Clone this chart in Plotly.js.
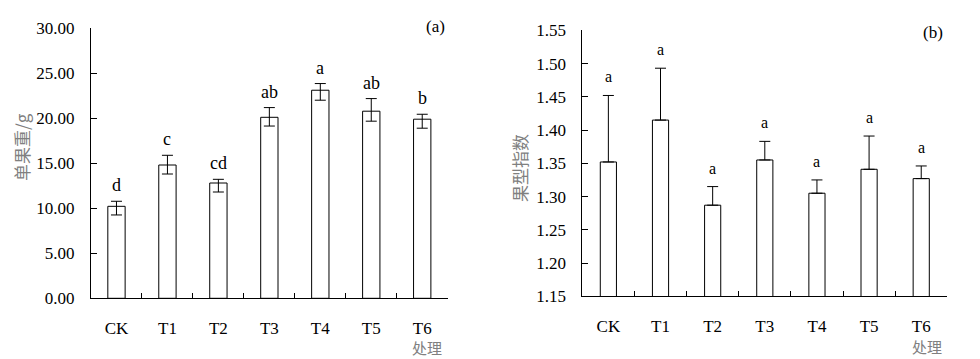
<!DOCTYPE html>
<html>
<head>
<meta charset="utf-8">
<script src="https://cdn.plot.ly/plotly-3.0.1.min.js"></script>
<style>html,body{margin:0;padding:0;background:#fff;}#chart{width:980px;height:359px;}</style>
</head>
<body>
<div id="chart"></div>
<script>
// ---- data ----
const categories = ["CK", "T1", "T2", "T3", "T4", "T5", "T6"];

// (a) 单果重/g
const weightMean = [10.22, 14.81, 12.81, 20.11, 23.12, 20.79, 19.90];
const weightErrUp = [0.56, 1.08, 0.41, 1.08, 0.74, 1.40, 0.55];
const weightErrDown = [0.96, 1.00, 1.00, 0.97, 1.11, 1.11, 1.00];
const weightLetters = ["d", "c", "cd", "ab", "a", "ab", "b"];
const weightTicks = [0, 5, 10, 15, 20, 25, 30];

// (b) 果型指数
const shapeMean = [1.352, 1.415, 1.287, 1.355, 1.305, 1.341, 1.327];
const shapeErrUp = [0.100, 0.078, 0.028, 0.028, 0.020, 0.050, 0.019];
const shapeLetters = ["a", "a", "a", "a", "a", "a", "a"];
const shapeTicks = [1.15, 1.20, 1.25, 1.30, 1.35, 1.40, 1.45, 1.50, 1.55];

// ---- styling ----
const serif = "'Liberation Serif', 'Times New Roman', Times, serif";
const cjk = "'Noto Sans CJK SC', sans-serif";
const W = 980, H = 359;

const barStyle = {color: "#ffffff", line: {color: "#000000", width: 1}};

const traceA = {
  type: "bar", x: categories, y: weightMean, xaxis: "x", yaxis: "y",
  marker: barStyle, width: 0.34,
  error_y: {type: "data", symmetric: false, array: weightErrUp, arrayminus: weightErrDown,
            color: "#000000", thickness: 1, width: 5.5},
  hoverinfo: "x+y"
};
const traceB = {
  type: "bar", x: categories, y: shapeMean, xaxis: "x2", yaxis: "y2",
  marker: barStyle, width: 0.31,
  error_y: {type: "data", symmetric: false, array: shapeErrUp,
            arrayminus: shapeMean.map(() => 0),
            color: "#000000", thickness: 1, width: 5.5},
  hoverinfo: "x+y"
};

function xAxis(domain, anchor) {
  return {
    domain: domain, anchor: anchor, type: "category",
    range: [-0.5, 6.5], showline: true, linecolor: "#000", linewidth: 1,
    ticks: "inside", tickson: "boundaries", ticklen: 5, tickcolor: "#000", tickwidth: 1,
    ticklabelstandoff: 14,
    tickfont: {family: serif, size: 17, color: "#000"},
    showgrid: false, zeroline: false, fixedrange: true
  };
}
function yAxis(domain, anchor, range, ticks) {
  return {
    domain: domain, anchor: anchor, range: range,
    tickmode: "array", tickvals: ticks, ticktext: ticks.map(v => v.toFixed(2)),
    showline: true, linecolor: "#000", linewidth: 1,
    ticks: "inside", ticklen: 6, tickcolor: "#000", tickwidth: 1,
    ticklabelstandoff: 12,
    tickfont: {family: serif, size: 17, color: "#000"},
    showgrid: false, zeroline: false, fixedrange: true
  };
}

const annotations = [];
categories.forEach((c, i) => {
  annotations.push({
    x: c, y: weightMean[i] + weightErrUp[i], xref: "x", yref: "y",
    text: weightLetters[i], showarrow: false, yanchor: "bottom", yshift: 4,
    font: {family: serif, size: 18, color: "#000"}
  });
  annotations.push({
    x: c, y: shapeMean[i] + shapeErrUp[i], xref: "x2", yref: "y2",
    text: shapeLetters[i], showarrow: false, yanchor: "bottom", yshift: 8,
    font: {family: serif, size: 16, color: "#000"}
  });
});
// panel labels
annotations.push({x: 435 / W, y: 1 - 27 / H, xref: "paper", yref: "paper", text: "(a)",
  showarrow: false, xanchor: "center", yanchor: "middle", font: {family: serif, size: 17, color: "#000"}});
annotations.push({x: 933 / W, y: 1 - 33 / H, xref: "paper", yref: "paper", text: "(b)",
  showarrow: false, xanchor: "center", yanchor: "middle", font: {family: serif, size: 17, color: "#000"}});
// y-axis titles
annotations.push({x: 21 / W, y: 1 - 147 / H, xref: "paper", yref: "paper", text: "单果重/g",
  textangle: -90, showarrow: false, xanchor: "center", yanchor: "middle",
  font: {family: cjk, size: 17, color: "#808080"}});
annotations.push({x: 519 / W, y: 1 - 168 / H, xref: "paper", yref: "paper", text: "果型指数",
  textangle: -90, showarrow: false, xanchor: "center", yanchor: "middle",
  font: {family: cjk, size: 17, color: "#808080"}});
// x-axis titles
annotations.push({x: 427 / W, y: 1 - 347 / H, xref: "paper", yref: "paper", text: "处理",
  showarrow: false, xanchor: "center", yanchor: "middle", borderpad: 0,
  font: {family: cjk, size: 15, color: "#808080"}});
annotations.push({x: 927 / W, y: 1 - 346 / H, xref: "paper", yref: "paper", text: "处理",
  showarrow: false, xanchor: "center", yanchor: "middle", borderpad: 0,
  font: {family: cjk, size: 15, color: "#808080"}});

const layout = {
  width: W, height: H,
  margin: {l: 0, r: 0, t: 0, b: 0},
  paper_bgcolor: "#fff", plot_bgcolor: "#fff",
  showlegend: false,
  xaxis: xAxis([91 / W, 447.7 / W], "y"),
  yaxis: yAxis([1 - 298.3 / H, 1 - 28.3 / H], "x", [0, 30], weightTicks),
  xaxis2: xAxis([582.3 / W, 947.3 / W], "y2"),
  yaxis2: yAxis([1 - 296.3 / H, 1 - 30.3 / H], "x2", [1.15, 1.55], shapeTicks),
  annotations: annotations,
  font: {family: serif, color: "#000"}
};

Plotly.newPlot("chart", [traceA, traceB], layout, {displayModeBar: false, staticPlot: true});
</script>
</body>
</html>
